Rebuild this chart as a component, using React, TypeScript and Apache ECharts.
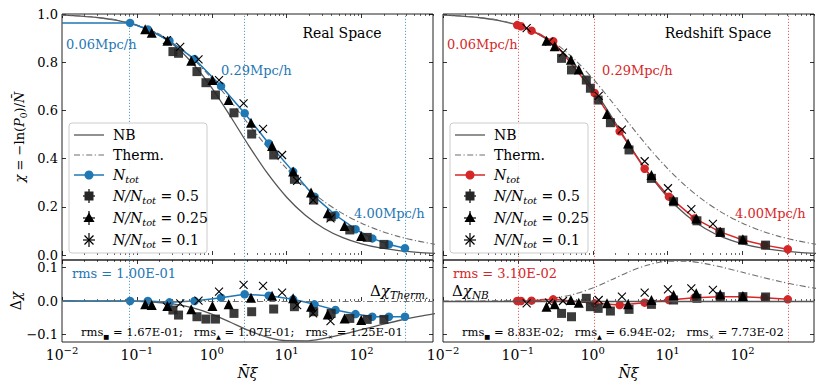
import React, { useEffect, useRef } from "react";
import * as echarts from "echarts";

const FONT = "DejaVu Serif";
const BLUE = "#1f77b4";
const RED = "#d62728";
const NB_GRAY = "#555555";
const TH_GRAY = "#6e6e6e";
const SQ_COLOR = "#262626";

// axis extents / ticks
const X_MIN = 0.01;
const X_MAX = 900;
const X_MAJOR = [0.01, 0.1, 1, 10, 100];
const X_MINOR_MULT = [2, 3, 4, 5, 6, 7, 8, 9];
const Y_TOP_TICKS = [0, 0.2, 0.4, 0.6, 0.8, 1.0];
const Y_BOT_TICKS = [-0.1, 0, 0.1];
const Y_TOP_RANGE = [-0.0207, 1.0];
const Y_BOT_RANGE = [-0.1224, 0.1224];

// model curves (quarter-decade samples)
const CURVE_X = [0.01, 0.01778, 0.03162, 0.05623, 0.1, 0.1778, 0.3162, 0.5623, 1, 1.778, 3.162, 5.623, 10, 17.78, 31.62, 56.23, 100, 177.8, 316.2, 562.3, 1000];
const NB_CHI = [0.995, 0.9912, 0.9845, 0.9729, 0.9531, 0.9204, 0.8689, 0.7935, 0.6931, 0.5747, 0.451, 0.3362, 0.2398, 0.165, 0.1102, 0.072, 0.0462, 0.0292, 0.0182, 0.0113, 0.0069];
const THERM_CHI = [0.995, 0.9913, 0.9847, 0.9734, 0.9545, 0.9241, 0.8781, 0.8138, 0.7321, 0.6381, 0.5396, 0.4445, 0.3583, 0.2838, 0.2219, 0.1717, 0.1318, 0.1006, 0.0764, 0.0579, 0.0437];
const NB_MINUS_THERM = [0.0, -0.0001, -0.0002, -0.0005, -0.0014, -0.0037, -0.0093, -0.0204, -0.0389, -0.0634, -0.0887, -0.1083, -0.1185, -0.1189, -0.1116, -0.0997, -0.0856, -0.0714, -0.0582, -0.0466, -0.0368];
const THERM_MINUS_NB = [0.0, 0.0001, 0.0002, 0.0005, 0.0014, 0.0037, 0.0093, 0.0204, 0.0389, 0.0634, 0.0887, 0.1083, 0.1185, 0.1189, 0.1116, 0.0997, 0.0856, 0.0714, 0.0582, 0.0466, 0.0368];

// Real space
const REAL_NTOT_X = [0.081, 0.14, 0.272, 0.589, 1.33, 2.75, 5.76, 12.2, 23.5, 44.9, 83, 139, 232, 380];
const REAL_NTOT_CHI = [0.963, 0.936, 0.889, 0.813, 0.701, 0.588, 0.463, 0.346, 0.242, 0.166, 0.107, 0.069, 0.044, 0.028];
const REAL_NTOT_DCHI = [0.0, 0.0, -0.004, 0.0, 0.01, 0.02, 0.016, 0.005, -0.01, -0.027, -0.039, -0.047, -0.047, -0.047];

const REAL_HALF_X = [0.303, 0.36, 0.634, 0.836, 1.12, 1.98, 3.41, 6.71, 12.7, 23.0, 39.3, 69.7, 119, 199];
const REAL_HALF_CHI = [0.844, 0.837, 0.761, 0.715, 0.664, 0.59, 0.502, 0.415, 0.314, 0.228, 0.159, 0.104, 0.073, 0.044];
const REAL_HALF_DCHI = [-0.027, -0.042, -0.047, -0.054, -0.054, -0.037, -0.032, -0.024, -0.017, -0.032, -0.037, -0.052, -0.055, -0.055];

const REAL_QUART_X = [0.129, 0.158, 0.256, 0.532, 1.02, 1.68, 3.34, 6.38, 12.2, 21.2, 35.4, 59.3, 99];
const REAL_QUART_CHI = [0.937, 0.922, 0.889, 0.806, 0.726, 0.643, 0.549, 0.452, 0.346, 0.259, 0.173, 0.12, 0.079];
const REAL_QUART_DCHI = [-0.01, -0.012, -0.015, -0.025, -0.015, -0.01, 0.01, 0.016, 0.008, -0.017, -0.04, -0.052, -0.057];

const REAL_TENTH_X = [0.252, 0.379, 0.665, 1.25, 2.66, 4.84, 8.69, 13.8, 22.6, 38.5];
const REAL_TENTH_CHI = [0.892, 0.864, 0.812, 0.726, 0.629, 0.523, 0.415, 0.308, 0.228, 0.152];
const REAL_TENTH_DCHI = [-0.017, -0.007, 0.001, 0.028, 0.048, 0.045, 0.025, -0.012, -0.037, -0.06];

// Redshift space
const RED_NTOT_X = [0.098, 0.11, 0.152, 0.296, 1.06, 2.29, 4.93, 10.4, 22.9, 49.3, 101, 196, 402];
const RED_NTOT_CHI = [0.954, 0.949, 0.931, 0.887, 0.672, 0.513, 0.358, 0.242, 0.152, 0.097, 0.062, 0.041, 0.024];
const RED_NTOT_DCHI = [0.0, 0.0, 0.001, 0.005, -0.007, -0.012, -0.005, 0.003, 0.01, 0.013, 0.013, 0.01, 0.005];

const RED_HALF_X = [0.383, 0.52, 0.82, 0.93, 1.18, 1.72, 3.05, 6.07, 12.0, 24.6, 50.4, 101, 203];
const RED_HALF_CHI = [0.816, 0.768, 0.726, 0.692, 0.643, 0.549, 0.436, 0.318, 0.221, 0.142, 0.094, 0.062, 0.041];
const RED_HALF_DCHI = [-0.037, -0.047, 0.008, -0.017, -0.022, -0.03, -0.025, -0.01, 0.003, 0.008, 0.013, 0.013, 0.012];

const RED_QUART_X = [0.241, 0.31, 0.51, 0.65, 1.55, 2.96, 6.07, 12.0, 24.1, 50.4, 101];
const RED_QUART_CHI = [0.889, 0.866, 0.81, 0.77, 0.585, 0.463, 0.332, 0.228, 0.152, 0.097, 0.065];
const RED_QUART_DCHI = [-0.017, -0.01, 0.003, -0.005, -0.007, -0.01, 0.003, 0.018, 0.023, 0.02, 0.015];

const RED_TENTH_X = [0.131, 0.261, 0.4, 1.2, 2.45, 4.93, 10.1, 20.7, 40.2];
const RED_TENTH_CHI = [0.941, 0.885, 0.84, 0.66, 0.52, 0.389, 0.277, 0.19, 0.129];
const RED_TENTH_DCHI = [-0.007, -0.005, 0.0, 0.003, 0.013, 0.025, 0.035, 0.038, 0.033];

// texts
const SCALE_LABELS = ["0.06Mpc/h", "0.29Mpc/h", "4.00Mpc/h"];
const REAL_SCALE_IDX = [0, 5, 13];
const RED_SCALE_IDX = [0, 4, 12];
const FRACTIONS = ["0.5", "0.25", "0.1"];
const REAL_RMS = "1.00E-01";
const RED_RMS = "3.10E-02";
const REAL_RMS_SUB = ["1.67E-01", "1.07E-01", "1.25E-01"];
const RED_RMS_SUB = ["8.83E-02", "6.94E-02", "7.73E-02"];

const GRIDS = [
  { left: 62, top: 14, width: 371, height: 246 },
  { left: 443, top: 14, width: 371, height: 246 },
  { left: 62, top: 260, width: 371, height: 82 },
  { left: 443, top: 260, width: 371, height: 82 },
];

const pairs = (xs: number[], ys: number[]) => xs.map((x, i) => [x, ys[i]]);

const X_MINOR: number[] = [];
X_MAJOR.forEach((m) => X_MINOR_MULT.forEach((k) => { const v = m * k; if (v <= X_MAX) X_MINOR.push(v); }));

const mathRichModel = (size: number) => ({
  r: { fontFamily: FONT, fontSize: size, color: "#000", lineHeight: 18, verticalAlign: "middle" },
  i: { fontFamily: FONT, fontSize: size, fontStyle: "italic", color: "#000", lineHeight: 18, verticalAlign: "middle" },
  s: { fontFamily: FONT, fontSize: size * 0.7, color: "#000", lineHeight: 18, verticalAlign: "bottom" },
  si: { fontFamily: FONT, fontSize: size * 0.7, fontStyle: "italic", color: "#000", lineHeight: 18, verticalAlign: "bottom" },
});

const mathRichG = (size: number, color = "#000", lh = 18) => ({
  r: { fontFamily: FONT, fontSize: size, fill: color, lineHeight: lh, verticalAlign: "middle" },
  i: { fontFamily: FONT, fontSize: size, fontStyle: "italic", fill: color, lineHeight: lh, verticalAlign: "middle" },
  s: { fontFamily: FONT, fontSize: size * 0.7, fill: color, lineHeight: lh, verticalAlign: "bottom" },
  si: { fontFamily: FONT, fontSize: size * 0.7, fontStyle: "italic", fill: color, lineHeight: lh, verticalAlign: "bottom" },
  m: { fontFamily: FONT, fontSize: size * 0.55, fill: color, lineHeight: lh, verticalAlign: "bottom" },
});

function buildAxes() {
  const xAxis: any[] = [];
  const yAxis: any[] = [];
  GRIDS.forEach((_, g) => {
    const bottomPanel = g >= 2;
    const base = {
      type: "log", logBase: 10, min: X_MIN, max: X_MAX, gridIndex: g,
      splitLine: { show: false }, minorTick: { show: false }, minorSplitLine: { show: false },
      axisLine: { show: false },
    };
    const major = { show: true, inside: true, length: 4, customValues: X_MAJOR, lineStyle: { color: "#000", width: 0.8 } };
    const minor = { show: true, inside: true, length: 2, customValues: X_MINOR, lineStyle: { color: "#000", width: 0.6 } };
    xAxis.push({
      ...base, position: "bottom", axisTick: major,
      axisLabel: {
        show: bottomPanel, customValues: X_MAJOR, margin: 3,
        formatter: (v: number) => `{b|10}{e|${String(Math.round(Math.log10(v))).replace("-", "−")}}`,
        rich: {
          b: { fontFamily: FONT, fontSize: 14, color: "#000", lineHeight: 17, verticalAlign: "bottom" },
          e: { fontFamily: FONT, fontSize: 10, color: "#000", lineHeight: 17, verticalAlign: "top" },
        },
      },
      name: bottomPanel ? "{i|N̄ξ}" : "",
      nameLocation: "middle", nameGap: 22,
      nameTextStyle: { rich: mathRichModel(14) },
    });
    xAxis.push({ ...base, position: "bottom", axisTick: minor, axisLabel: { show: false } });
    xAxis.push({ ...base, position: "top", axisTick: major, axisLabel: { show: false } });
    xAxis.push({ ...base, position: "top", axisTick: minor, axisLabel: { show: false } });

    const range = bottomPanel ? Y_BOT_RANGE : Y_TOP_RANGE;
    const ticks = bottomPanel ? Y_BOT_TICKS : Y_TOP_TICKS;
    const leftPanel = g % 2 === 0;
    const yBase = {
      type: "value", min: range[0], max: range[1], gridIndex: g,
      splitLine: { show: false }, axisLine: { show: false },
      axisTick: { show: true, inside: true, length: 4, customValues: ticks, lineStyle: { color: "#000", width: 0.8 } },
    };
    yAxis.push({
      ...yBase, position: "left",
      axisLabel: {
        show: leftPanel, customValues: ticks, margin: 4,
        fontFamily: FONT, fontSize: 13, lineHeight: 13, color: "#000",
        formatter: (v: number) => v.toFixed(1).replace("-", "−"),
      },
      name: leftPanel ? (bottomPanel ? "{r|Δ}{i|χ}" : "{i|χ}{r| = −ln(}{i|P}{s|0}{r|)/}{i|N̄}") : "",
      nameLocation: "middle", nameGap: bottomPanel ? 36 : 34,
      nameTextStyle: { rich: mathRichModel(bottomPanel ? 14 : 13) },
    });
    yAxis.push({ ...yBase, position: "right", axisLabel: { show: false } });
  });
  return { xAxis, yAxis };
}

const dottedMarks = (xs: number[], idx: number[], color: string) => ({
  silent: true, symbol: ["none", "none"], label: { show: false }, animation: false,
  itemStyle: { color },
  lineStyle: { type: [1.2, 1.8], color, width: 1, opacity: 0.7 },
  emphasis: { disabled: true },
  data: idx.map((i) => ({ xAxis: xs[i], lineStyle: { color, type: [1.2, 1.8], width: 1, opacity: 0.7 } })),
});

const DASHDOT = [6, 2.5, 1.2, 2.5];

function curve(g: number, xs: number[], ys: number[], dashed: boolean, zeroLine?: "solid" | "dashdot") {
  const s: any = {
    type: "line", xAxisIndex: 4 * g, yAxisIndex: 2 * g, data: pairs(xs, ys), symbol: "none",
    smooth: 0.3, silent: true, z: 2,
    lineStyle: dashed ? { color: TH_GRAY, width: 1.1, type: DASHDOT } : { color: NB_GRAY, width: 1.3 },
  };
  if (zeroLine) {
    s.markLine = {
      silent: true, symbol: ["none", "none"], label: { show: false },
      lineStyle: zeroLine === "solid" ? { color: NB_GRAY, width: 1.3, type: "solid" } : { color: TH_GRAY, width: 1.1, type: DASHDOT },
      data: [{ yAxis: 0 }],
    };
  }
  return s;
}

function ntot(g: number, xs: number[], ys: number[], color: string, extendLeft: boolean, markIdx: number[]) {
  const data: any[] = pairs(xs, ys);
  if (extendLeft) data.unshift({ value: [X_MIN, ys[0]], symbol: "none" });
  return {
    type: "line", xAxisIndex: 4 * g, yAxisIndex: 2 * g, data, symbol: "circle", symbolSize: 8.5,
    lineStyle: { color, width: 1.5 }, itemStyle: { color, opacity: 1 }, z: 3,
    markLine: dottedMarks(xs, markIdx, color),
  };
}

const squares = (g: number, xs: number[], ys: number[]) => ({
  type: "scatter", xAxisIndex: 4 * g, yAxisIndex: 2 * g, data: pairs(xs, ys),
  symbol: "rect", symbolSize: 9, itemStyle: { color: SQ_COLOR, opacity: 0.9 }, z: 4,
});
const triangles = (g: number, xs: number[], ys: number[]) => ({
  type: "scatter", xAxisIndex: 4 * g, yAxisIndex: 2 * g, data: pairs(xs, ys),
  symbol: "triangle", symbolSize: 10, itemStyle: { color: "#000", opacity: 1 }, z: 5,
});
const crosses = (g: number, xs: number[], ys: number[]) => ({
  type: "scatter", xAxisIndex: 4 * g, yAxisIndex: 2 * g, data: pairs(xs, ys),
  symbol: "path://M0 0L10 10M10 0L0 10", symbolSize: 8,
  itemStyle: { color: "none", borderColor: "#000", borderWidth: 1.1, opacity: 1 }, z: 6,
});

function legend(x0: number, color: string) {
  const els: any[] = [];
  const bx = x0 + 7, by = 123;
  els.push({ type: "rect", shape: { x: bx, y: by, width: 138, height: 130, r: 3 }, style: { fill: "rgba(255,255,255,0.85)", stroke: "#cccccc", lineWidth: 1 }, z: 50 });
  const rows = [135, 155, 175, 196, 218, 240];
  const lx1 = x0 + 12, lx2 = x0 + 42, cx = x0 + 27, tx = x0 + 51;
  els.push({ type: "line", shape: { x1: lx1, y1: rows[0], x2: lx2, y2: rows[0] }, style: { stroke: NB_GRAY, lineWidth: 1.3 }, z: 51 });
  els.push({ type: "line", shape: { x1: lx1, y1: rows[1], x2: lx2, y2: rows[1] }, style: { stroke: TH_GRAY, lineWidth: 1.1, lineDash: DASHDOT }, z: 51 });
  els.push({ type: "line", shape: { x1: lx1, y1: rows[2], x2: lx2, y2: rows[2] }, style: { stroke: color, lineWidth: 1.5 }, z: 51 });
  els.push({ type: "circle", shape: { cx, cy: rows[2], r: 4.5 }, style: { fill: color }, z: 52 });
  for (let k = 3; k < 6; k++) {
    const cy = rows[k];
    els.push({ type: "line", shape: { x1: cx - 6, y1: cy, x2: cx + 6, y2: cy }, style: { stroke: "#000", lineWidth: 1.2 }, z: 51 });
    els.push({ type: "line", shape: { x1: cx, y1: cy - 7, x2: cx, y2: cy + 7 }, style: { stroke: "#000", lineWidth: 1.2 }, z: 51 });
  }
  els.push({ type: "rect", shape: { x: cx - 4.5, y: rows[3] - 4.5, width: 9, height: 9 }, style: { fill: SQ_COLOR }, z: 52 });
  els.push({ type: "polygon", shape: { points: [[cx, rows[4] - 5.5], [cx + 5.5, rows[4] + 4], [cx - 5.5, rows[4] + 4]] }, style: { fill: "#000" }, z: 52 });
  els.push({ type: "line", shape: { x1: cx - 4.5, y1: rows[5] - 4.5, x2: cx + 4.5, y2: rows[5] + 4.5 }, style: { stroke: "#000", lineWidth: 1.2 }, z: 52 });
  els.push({ type: "line", shape: { x1: cx + 4.5, y1: rows[5] - 4.5, x2: cx - 4.5, y2: rows[5] + 4.5 }, style: { stroke: "#000", lineWidth: 1.2 }, z: 52 });
  const texts = [
    "{r|NB}", "{r|Therm.}", "{i|N}{si|tot}",
    ...FRACTIONS.map((f) => `{i|N/N}{si|tot}{r| = ${f}}`),
  ];
  texts.forEach((t, k) => {
    els.push({ type: "text", x: tx, y: rows[k], z: 53, style: { text: t, rich: mathRichG(14), verticalAlign: "middle", align: "left" } });
  });
  return els;
}

const plainText = (x: number, y: number, text: string, size: number, fill: string, align = "left") => ({
  type: "text", x, y, z: 40,
  style: { text, fontFamily: FONT, fontSize: size, fill, verticalAlign: "middle", align },
});

function rmsLine(x: number, y: number, vals: string[]) {
  return {
    type: "text", x, y, z: 40,
    style: {
      text: `{r|rms}{m|■}{r| = ${vals[0]};   rms}{m|▲}{r| = ${vals[1]};   rms}{m|×}{r| = ${vals[2]}}`,
      rich: mathRichG(11.5, "#000", 15), verticalAlign: "middle", align: "left",
    },
  };
}

function buildOption() {
  const { xAxis, yAxis } = buildAxes();
  const series: any[] = [
    // real space, top
    curve(0, CURVE_X, NB_CHI, false),
    curve(0, CURVE_X, THERM_CHI, true),
    ntot(0, REAL_NTOT_X, REAL_NTOT_CHI, BLUE, true, REAL_SCALE_IDX),
    squares(0, REAL_HALF_X, REAL_HALF_CHI),
    triangles(0, REAL_QUART_X, REAL_QUART_CHI),
    crosses(0, REAL_TENTH_X, REAL_TENTH_CHI),
    // redshift space, top
    curve(1, CURVE_X, NB_CHI, false),
    curve(1, CURVE_X, THERM_CHI, true),
    ntot(1, RED_NTOT_X, RED_NTOT_CHI, RED, false, RED_SCALE_IDX),
    squares(1, RED_HALF_X, RED_HALF_CHI),
    triangles(1, RED_QUART_X, RED_QUART_CHI),
    crosses(1, RED_TENTH_X, RED_TENTH_CHI),
    // real space residuals (wrt Therm.)
    curve(2, CURVE_X, NB_MINUS_THERM, false, "dashdot"),
    ntot(2, REAL_NTOT_X, REAL_NTOT_DCHI, BLUE, true, REAL_SCALE_IDX),
    squares(2, REAL_HALF_X, REAL_HALF_DCHI),
    triangles(2, REAL_QUART_X, REAL_QUART_DCHI),
    crosses(2, REAL_TENTH_X, REAL_TENTH_DCHI),
    // redshift residuals (wrt NB)
    curve(3, CURVE_X, THERM_MINUS_NB, true, "solid"),
    ntot(3, RED_NTOT_X, RED_NTOT_DCHI, RED, false, RED_SCALE_IDX),
    squares(3, RED_HALF_X, RED_HALF_DCHI),
    triangles(3, RED_QUART_X, RED_QUART_DCHI),
    crosses(3, RED_TENTH_X, RED_TENTH_DCHI),
  ];

  const graphic: any[] = [
    plainText(342, 33, "Real Space", 14, "#000", "center"),
    plainText(718, 33, "Redshift Space", 14, "#000", "center"),
    plainText(66, 44, SCALE_LABELS[0], 13, BLUE),
    plainText(221, 70, SCALE_LABELS[1], 13, BLUE),
    plainText(354, 213, SCALE_LABELS[2], 13, BLUE),
    plainText(447, 44, SCALE_LABELS[0], 13, RED),
    plainText(602, 70, SCALE_LABELS[1], 13, RED),
    plainText(735, 213, SCALE_LABELS[2], 13, RED),
    plainText(72, 273, `rms = ${REAL_RMS}`, 13, BLUE),
    plainText(453, 273, `rms = ${RED_RMS}`, 13, RED),
    { type: "text", x: 370, y: 291, z: 40, style: { text: "{r|Δ}{i|χ}{si|Therm.}", rich: mathRichG(15), verticalAlign: "middle", align: "left" } },
    { type: "text", x: 452, y: 291, z: 40, style: { text: "{r|Δ}{i|χ}{si|NB}", rich: mathRichG(15), verticalAlign: "middle", align: "left" } },
    rmsLine(81, 332, REAL_RMS_SUB),
    rmsLine(462, 332, RED_RMS_SUB),
    ...legend(62, BLUE),
    ...legend(443, RED),
  ];

  return {
    animation: false,
    backgroundColor: "#ffffff",
    textStyle: { fontFamily: FONT },
    grid: GRIDS.map((g) => ({ ...g, show: true, borderColor: "#222", borderWidth: 1, backgroundColor: "transparent", containLabel: false })),
    xAxis, yAxis, series, graphic,
  };
}

export default function App() {
  const ref = useRef<HTMLDivElement>(null);
  useEffect(() => {
    if (!ref.current) return;
    const chart = echarts.init(ref.current, null, { renderer: "svg" });
    chart.setOption(buildOption() as any);
    return () => chart.dispose();
  }, []);
  return <div ref={ref} style={{ position: "fixed", left: 0, top: 0, width: 830, height: 388, background: "#fff" }} />;
}
